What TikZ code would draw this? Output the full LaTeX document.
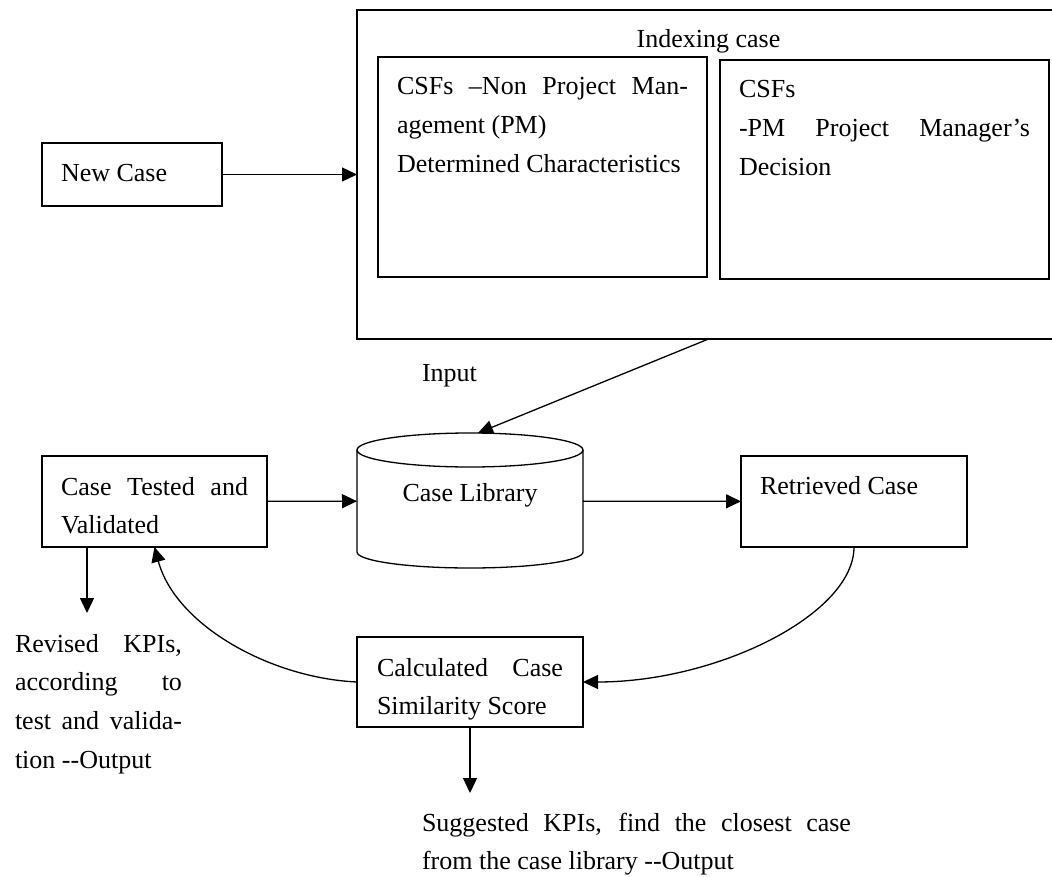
\documentclass[tikz,border=0pt]{standalone}
\usepackage{fontspec}
\setmainfont{Liberation Serif}
\usetikzlibrary{arrows.meta}
\hyphenpenalty=10000
\tolerance=10000
% text set at the top of a framed box: width, height, top-to-first-baseline, text
\newcommand\boxtext[4]{\parbox[c][#2pt][t]{#1pt}{\rule{0pt}{#3pt}#4}}
\begin{document}
\begin{tikzpicture}[x=1pt,y=1pt,
  line width=1.3pt,
  every node/.style={font=\fontsize{26pt}{38.7pt}\selectfont, inner sep=0pt, outer sep=0pt},
  txtbox/.style={draw, rectangle, anchor=north west, line width=1.3pt},
  arr/.style={-{Triangle[length=15pt,width=14pt]}, line width=1.3pt}
]
\fill[white, use as bounding box] (0,0) rectangle (1052,-877);
\clip (0,0) rectangle (1052,-877);

% indexing case with its two groups of CSFs
\node[txtbox, minimum width=703pt, minimum height=329pt] (index) at (357,-10)
  {\boxtext{665}{329}{38}{\centering Indexing case}};
\node[txtbox, minimum width=329pt, minimum height=220pt] (nonpm) at (378,-57)
  {\boxtext{291}{220}{38}{CSFs –Non Project Man-\linebreak agement (PM)\\Determined Characteristics}};
\node[txtbox, minimum width=329pt, minimum height=219pt] (pm) at (720,-60)
  {\boxtext{291}{219}{38}{CSFs\\-PM Project Manager’s\linebreak Decision}};

% process boxes
\node[txtbox, minimum width=180pt, minimum height=63pt] (new) at (42,-143)
  {\boxtext{142}{63}{39}{New Case}};
\node[txtbox, minimum width=225pt, minimum height=91pt] (test) at (42,-456)
  {\boxtext{187}{91}{39}{Case Tested and\linebreak Validated}};
\node[txtbox, minimum width=226pt, minimum height=91pt] (ret) at (741,-456)
  {\boxtext{188}{91}{38}{Retrieved Case}};
\node[txtbox, minimum width=226pt, minimum height=90pt] (calc) at (357,-637)
  {\boxtext{186}{90}{39}{Calculated Case\linebreak Similarity Score}};

% case library drum
\node[anchor=north west, minimum width=226pt, minimum height=102pt] (lib) at (357,-450)
  {\boxtext{226}{102}{51}{\centering Case Library}};
\draw (lib.north west) -- (lib.south west)
  arc[start angle=180, end angle=360, x radius=113pt, y radius=16pt] -- (lib.north east);
\draw (lib.north) ellipse [x radius=113pt, y radius=17pt];

% free labels
\node[anchor=base west] (input) at (422,-381) {Input};
\node[anchor=base west] (revised) at (15,-652)
  {\parbox[t]{167pt}{Revised KPIs,\linebreak according to\linebreak test and valida-\linebreak tion -{}-Output}};
\node[anchor=base west] (suggest) at (422,-831)
  {\parbox[t]{429pt}{Suggested KPIs, find the closest case\linebreak from the case library -{}-Output}};

\coordinate (revtip) at (87,-613);
\coordinate (sugtip) at (470,-793);

% connectors
\draw[arr] (new) -- (index);
\draw[arr] (index.south) -- ([xshift=8pt,yshift=17pt]lib.north);
\draw[arr] (test) -- (lib);
\draw[arr] (lib) -- (ret);
\draw[arr] ([xshift=45pt]test.south west) -- (revtip);
\draw[arr] (calc.south) -- (sugtip);
\draw[arr] (ret.south) .. controls +(0,-67) and +(135,0) .. (calc.east);
\draw[arr] (calc.west) .. controls +(-87,4) and +(21,-78) .. (test.south);
\end{tikzpicture}
\end{document}
